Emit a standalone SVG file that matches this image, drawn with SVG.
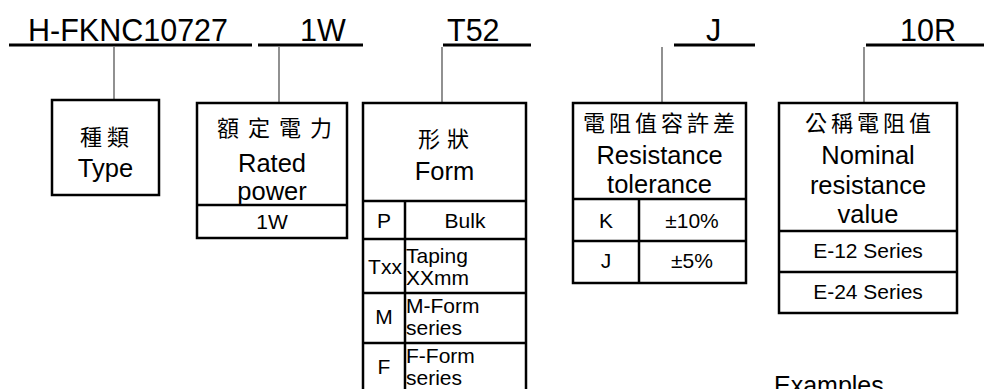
<svg xmlns="http://www.w3.org/2000/svg" width="984" height="389" viewBox="0 0 984 389">
<style>
.hd{font-family:"Liberation Sans",Arial,sans-serif;font-size:30.5px;fill:#000}
.t{font-family:"Liberation Sans",Arial,sans-serif;font-size:25.5px;fill:#000;text-anchor:middle}
.s{font-family:"Liberation Sans",Arial,sans-serif;font-size:21px;fill:#000;text-anchor:middle}
.sl{font-family:"Liberation Sans",Arial,sans-serif;font-size:21px;fill:#000}
.cj{font-family:"Noto Sans CJK TC","Noto Sans CJK SC",sans-serif;font-size:22px;fill:#000;text-anchor:middle;letter-spacing:4px}
.bx{fill:#fff;stroke:#000;stroke-width:2.5}
.ln{stroke:#000;stroke-width:2.5}
.ul{stroke:#000;stroke-width:3}
.cn{stroke:#555;stroke-width:1.3;fill:none}
</style>
<rect width="984" height="389" fill="#fff"/>
<g id="header">
<text class="hd" x="28" y="41">H-FKNC10727</text>
<text class="hd" x="300" y="41">1W</text>
<text class="hd" x="447" y="41">T52</text>
<text class="hd" x="706" y="41">J</text>
<text class="hd" x="900" y="41">10R</text>
<line class="ul" x1="9" y1="45" x2="252" y2="45"/>
<line class="ul" x1="258" y1="45" x2="363" y2="45"/>
<line class="ul" x1="443" y1="45" x2="531" y2="45"/>
<line class="ul" x1="674" y1="45" x2="755" y2="45"/>
<line class="ul" x1="866" y1="45" x2="984" y2="45"/>
</g>
<g id="connectors">
<line class="cn" x1="114" y1="47" x2="114" y2="100"/>
<line class="cn" x1="279" y1="47" x2="279" y2="103"/>
<line class="cn" x1="442" y1="47" x2="442" y2="103"/>
<line class="cn" x1="662" y1="47" x2="662" y2="103"/>
<line class="cn" x1="864" y1="47" x2="864" y2="103"/>
</g>
<g id="type">
<rect class="bx" x="52" y="100" width="107" height="95"/>
<text class="cj" x="107" y="145" style="letter-spacing:5px">種類</text>
<text class="t" x="105.5" y="177">Type</text>
</g>
<g id="rated">
<rect class="bx" x="197" y="103" width="150" height="135"/>
<line class="ln" x1="197" y1="205" x2="347" y2="205"/>
<text class="cj" x="279" y="136" style="letter-spacing:9px">額定電力</text>
<text class="t" x="272" y="172">Rated</text>
<text class="t" x="272" y="200">power</text>
<text class="s" x="272" y="229">1W</text>
</g>
<g id="form">
<rect class="bx" x="363" y="103" width="163" height="300"/>
<line class="ln" x1="363" y1="201" x2="526" y2="201"/>
<line class="ln" x1="363" y1="239" x2="526" y2="239"/>
<line class="ln" x1="363" y1="293" x2="526" y2="293"/>
<line class="ln" x1="363" y1="343" x2="526" y2="343"/>
<line class="ln" x1="405" y1="201" x2="405" y2="403"/>
<text class="cj" x="447" y="147" style="letter-spacing:7px">形狀</text>
<text class="t" x="444.5" y="180">Form</text>
<text class="s" x="384" y="228">P</text>
<text class="s" x="465" y="228">Bulk</text>
<text class="s" x="385" y="274">Txx</text>
<text class="sl" x="406" y="263">Taping</text>
<text class="sl" x="406" y="285">XXmm</text>
<text class="s" x="384" y="324">M</text>
<text class="sl" x="406" y="313">M-Form</text>
<text class="sl" x="406" y="335">series</text>
<text class="s" x="384" y="374">F</text>
<text class="sl" x="406" y="363">F-Form</text>
<text class="sl" x="406" y="385">series</text>
</g>
<g id="tolerance">
<rect class="bx" x="573" y="103" width="173" height="180"/>
<line class="ln" x1="573" y1="199" x2="746" y2="199"/>
<line class="ln" x1="573" y1="241" x2="746" y2="241"/>
<line class="ln" x1="639" y1="199" x2="639" y2="283"/>
<text class="cj" x="661" y="131">電阻值容許差</text>
<text class="t" x="659.5" y="164">Resistance</text>
<text class="t" x="659.5" y="193">tolerance</text>
<text class="s" x="606" y="228">K</text>
<text class="s" x="692" y="228">±10%</text>
<text class="s" x="606" y="268">J</text>
<text class="s" x="692" y="268">±5%</text>
</g>
<g id="nominal">
<rect class="bx" x="779" y="103" width="178" height="210"/>
<line class="ln" x1="779" y1="231" x2="957" y2="231"/>
<line class="ln" x1="779" y1="272" x2="957" y2="272"/>
<text class="cj" x="870" y="131">公稱電阻值</text>
<text class="t" x="868" y="164">Nominal</text>
<text class="t" x="868" y="194">resistance</text>
<text class="t" x="868" y="223">value</text>
<text class="s" x="868" y="258">E-12 Series</text>
<text class="s" x="868" y="299">E-24 Series</text>
</g>
<text class="sl" x="774" y="394" style="font-size:25px">Examples</text>
</svg>
